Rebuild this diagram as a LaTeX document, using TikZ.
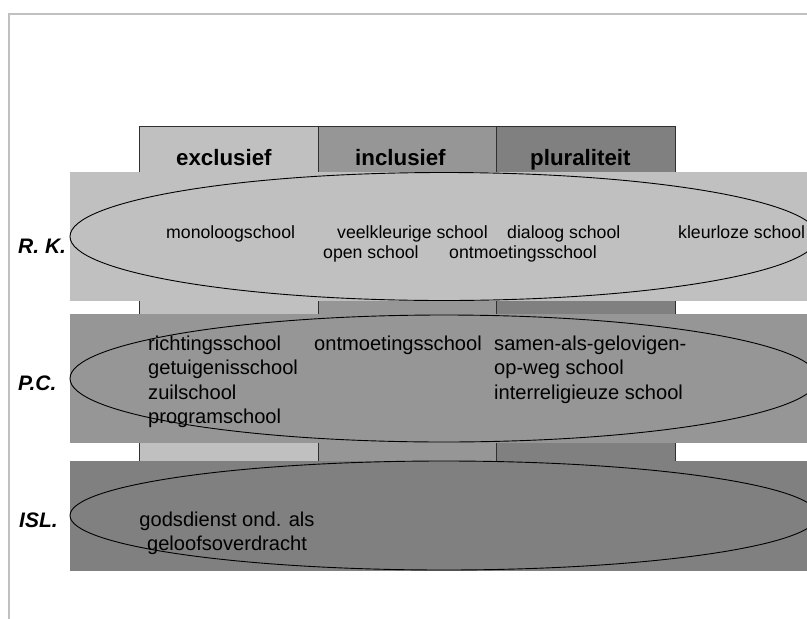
\documentclass[tikz,border=0pt]{standalone}
\usepackage{fontspec}
\setmainfont{Liberation Sans}
\usetikzlibrary{shapes.geometric}
\definecolor{toneA}{HTML}{C0C0C0}
\definecolor{toneB}{HTML}{969696}
\definecolor{toneC}{HTML}{808080}
\definecolor{framegray}{HTML}{C0C0C0}
\definecolor{edgegray}{HTML}{303030}
\tikzset{
  colbox/.style={draw=edgegray, line width=0.9pt, inner sep=0, outer sep=0,
    minimum width=179pt, minimum height=336pt, anchor=north west},
  band/.style={draw=none, inner sep=0, outer sep=0, minimum width=745pt, anchor=north west},
  oval/.style={ellipse, draw=black, line width=0.9pt, inner sep=0, outer sep=0, minimum width=748pt},
  headtxt/.style={font=\fontsize{22.3}{26}\selectfont\bfseries, anchor=base west, inner sep=0},
  rowlbl/.style={font=\fontsize{21}{25}\selectfont\bfseries\itshape, anchor=base west, inner sep=0},
  smalltxt/.style={font=\fontsize{17.7}{21}\selectfont, anchor=base west, inner sep=0},
  bigtxt/.style={font=\fontsize{20.1}{24}\selectfont, anchor=base west, inner sep=0},
}
\begin{document}
\begin{tikzpicture}[x=1pt,y=-1pt]
\clip (0,0) rectangle (807,619);
\fill[white] (0,0) rectangle (807,619);
% outer frame (top and left edges)
\draw[framegray, line width=2pt] (9,620) -- (9,13.5) -- (808,13.5);

% the three columns
\node[colbox, fill=toneA] (colex) at (139,126) {};
\node[colbox, fill=toneB] (colin) at (318,126) {};
\node[colbox, fill=toneC] (colpl) at (496,126) {};
\node[headtxt] (hex) at (176,165.5) {exclusief};
\node[headtxt] (hin) at (355,165.5) {inclusief};
\node[headtxt] (hpl) at (530,165.5) {pluraliteit};

% R. K. row
\node[band, fill=toneA, minimum height=129pt] (bandrk) at (70,172) {};
\node[oval, fill=toneA, minimum height=128pt] (ovrk) at (444,236.5) {};
\node[rowlbl] (lrk) at (18,253) {R. K.};
\node[smalltxt] (rk1) at (166,238) {monoloogschool};
\node[smalltxt] (rk2) at (337,238) {veelkleurige school};
\node[smalltxt] (rk3) at (507,238) {dialoog school};
\node[smalltxt] (rk4) at (678,238) {kleurloze school};
\node[smalltxt] (rk5) at (323,258) {open school};
\node[smalltxt] (rk6) at (449,258) {ontmoetingsschool};

% P. C. row
\node[band, fill=toneB, minimum height=129pt] (bandpc) at (70,314) {};
\node[oval, fill=toneB, minimum height=127pt] (ovpc) at (444,378.5) {};
\node[rowlbl] (lpc) at (18,390.5) {P.C.};
\node[bigtxt] (pc1) at (148,350) {richtingsschool};
\node[bigtxt] (pc2) at (148,374.5) {getuigenisschool};
\node[bigtxt] (pc3) at (148,399) {zuilschool};
\node[bigtxt] (pc4) at (148,423.5) {programschool};
\node[bigtxt] (pc5) at (314,350) {ontmoetingsschool};
\node[bigtxt] (pc6) at (494,350) {samen-als-gelovigen-};
\node[bigtxt] (pc7) at (494,374.5) {op-weg school};
\node[bigtxt] (pc8) at (494,399) {interreligieuze school};

% ISL. row
\node[band, fill=toneC, minimum height=110pt] (bandisl) at (70,461) {};
\node[oval, fill=toneC, minimum height=109pt] (ovisl) at (444,515.5) {};
\node[rowlbl] (lisl) at (19,527) {ISL.};
\node[bigtxt, anchor=base] (isl1) at (227,526) {godsdienst ond. als};
\node[bigtxt, anchor=base] (isl2) at (227,550) {geloofsoverdracht};
\end{tikzpicture}
\end{document}
